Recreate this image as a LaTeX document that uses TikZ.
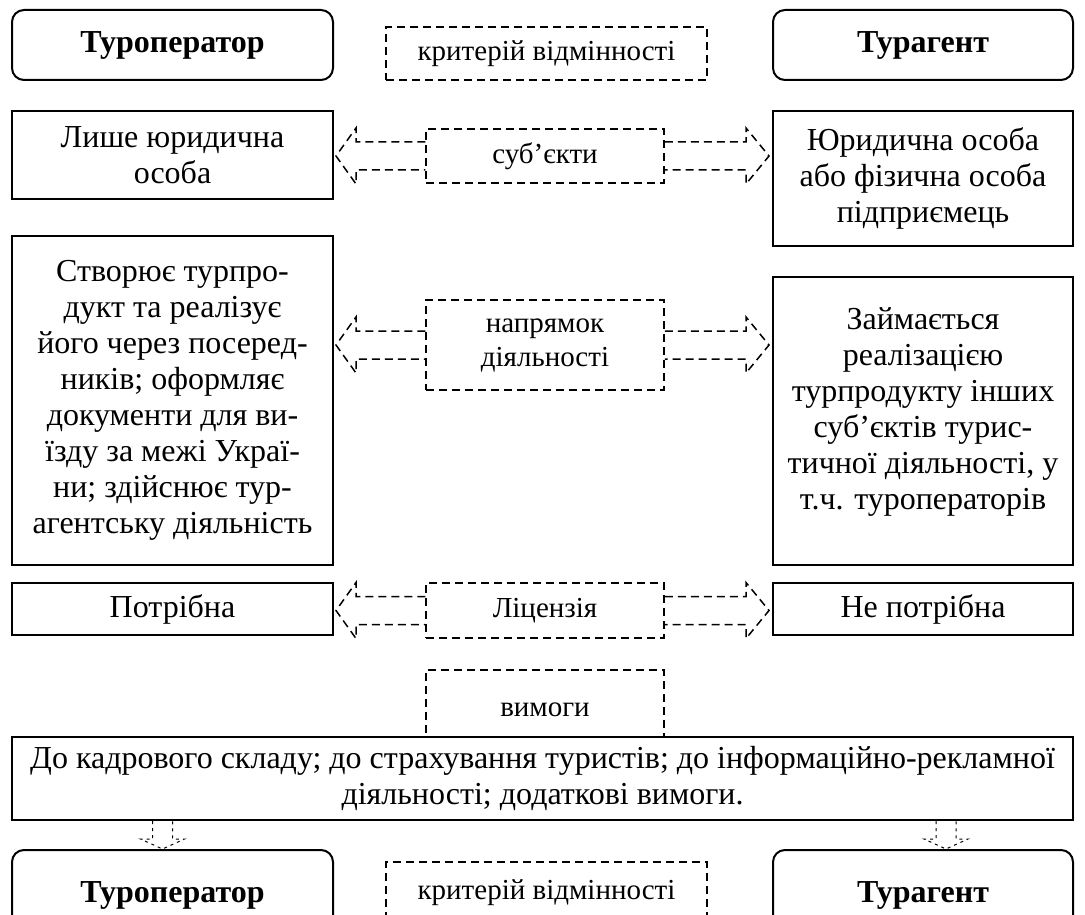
\documentclass[tikz,border=0pt]{standalone}
\usepackage{fontspec}
\setmainfont{Liberation Serif}
\usetikzlibrary{calc}
\newcommand\mainfs{\fontsize{16}{18}\selectfont}
\newcommand\labfs{\fontsize{14.5}{17}\selectfont}
\tikzset{
  solidbox/.style={draw, line width=1pt, inner sep=0pt, align=center, font=\mainfs, fill=white},
  roundbox/.style={solidbox, rounded corners=6pt, font=\mainfs\bfseries},
  dbox/.style={draw, dash pattern=on 4pt off 2.5pt, line width=0.75pt, inner sep=0pt, align=center, font=\labfs, fill=white},
  darrow/.style={draw, dash pattern=on 4pt off 2.5pt, line width=0.75pt},
  smallarrow/.style={draw, dash pattern=on 1.5pt off 2pt, line width=0.5pt},
}
\newcommand\leftarr[2]{% #1 label node, #2 target node on the left
  \coordinate (tmpL) at (#2.east |- #1.west);
  \draw[darrow] ($(#1.west)+(0,-14)$) -- ($(tmpL)+(22,-14)$) -- ($(tmpL)+(22,-28)$)
     -- ($(tmpL)+(2,0)$) -- ($(tmpL)+(22,28)$) -- ($(tmpL)+(22,14)$) -- ($(#1.west)+(0,14)$);
}
\newcommand\rightarr[2]{% #1 label node, #2 target node on the right
  \coordinate (tmpR) at (#2.west |- #1.east);
  \draw[darrow] ($(#1.east)+(0,-14)$) -- ($(tmpR)+(-26,-14)$) -- ($(tmpR)+(-26,-28)$)
     -- ($(tmpR)+(-3,0)$) -- ($(tmpR)+(-26,28)$) -- ($(tmpR)+(-26,14)$) -- ($(#1.east)+(0,14)$);
}
\newcommand\downarr[3]{% #1 top node, #2 bottom node, #3 x offset from bottom node centre
  \coordinate (tmpT) at ($(#2.north)+(#3,0)$);
  \coordinate (tmpS) at (tmpT |- #1.south);
  \draw[smallarrow] ($(tmpS)+(-10,0)$) -- ($(tmpS)+(-10,18)$) -- ($(tmpS)+(-22,18)$)
     -- (tmpT) -- ($(tmpS)+(22,18)$) -- ($(tmpS)+(10,18)$) -- ($(tmpS)+(10,0)$);
}
\begin{document}
\begin{tikzpicture}[x=0.5pt,y=-0.5pt]
\useasboundingbox[fill=white] (0,0) rectangle (1085,914);
% top row
\node[roundbox, minimum width=160.5pt, minimum height=35pt] (top1) at (172.5,45) {Туроператор};
\node[dbox, minimum width=160.5pt, minimum height=26.5pt] (crit1) at (546.5,53.5) {критерій відмінності};
\node[roundbox, minimum width=150pt, minimum height=35pt] (top2) at (923,45) {Турагент};
% row 2
\node[solidbox, minimum width=160.5pt, minimum height=44pt] (l2) at (172.5,155) {Лише юридична\\особа};
\node[solidbox, minimum width=150pt, minimum height=67.5pt] (r2) at (923,178.5) {Юридична особа\\або фізична особа\\підприємець};
\node[dbox, minimum width=119pt, minimum height=27pt] (sub) at (545,156) {суб’єкти};
% row 3
\node[solidbox, minimum width=160.5pt, minimum height=164.5pt] (l3) at (172.5,400.5) {Створює турпро-\\дукт та реалізує\\його через посеред-\\ників; оформляє\\документи для ви-\\їзду за межі Украї-\\ни; здійснює тур-\\агентську діяльність};
\node[solidbox, minimum width=150pt, minimum height=144pt, text depth=12pt] (r3) at (923,421) {Займається\\реалізацією\\турпродукту інших\\суб’єктів турис-\\тичної діяльності, у\\т.ч. туроператорів};
\node[dbox, minimum width=119pt, minimum height=45pt] (nap) at (545,345) {напрямок\\діяльності};
% row 4
\node[solidbox, minimum width=160.5pt, minimum height=26pt] (l4) at (172.5,609) {Потрібна};
\node[solidbox, minimum width=150pt, minimum height=26pt] (r4) at (923,609) {Не потрібна};
\node[dbox, minimum width=119pt, minimum height=27.5pt] (lic) at (545,610.5) {Ліцензія};
% arrows
\leftarr{sub}{l2}
\rightarr{sub}{r2}
\leftarr{nap}{l3}
\rightarr{nap}{r3}
\leftarr{lic}{l4}
\rightarr{lic}{r4}
% requirements
\node[dbox, minimum width=119pt, minimum height=40pt] (vym) at (545,710) {вимоги};
\node[solidbox, minimum width=530.5pt, minimum height=41.5pt] (big) at (542.5,778.5) {До кадрового складу; до страхування туристів; до інформаційно-рекламної\\діяльності; додаткові вимоги.};
% bottom row
\node[roundbox, minimum width=160.5pt, minimum height=45pt] (bot1) at (172.5,895) {Туроператор};
\node[dbox, minimum width=160.5pt, minimum height=31pt] (crit2) at (546.5,893) {критерій відмінності};
\node[roundbox, minimum width=150pt, minimum height=45pt] (bot2) at (923,895) {Турагент};
\downarr{big}{bot1}{-10}
\downarr{big}{bot2}{23}
\end{tikzpicture}
\end{document}
